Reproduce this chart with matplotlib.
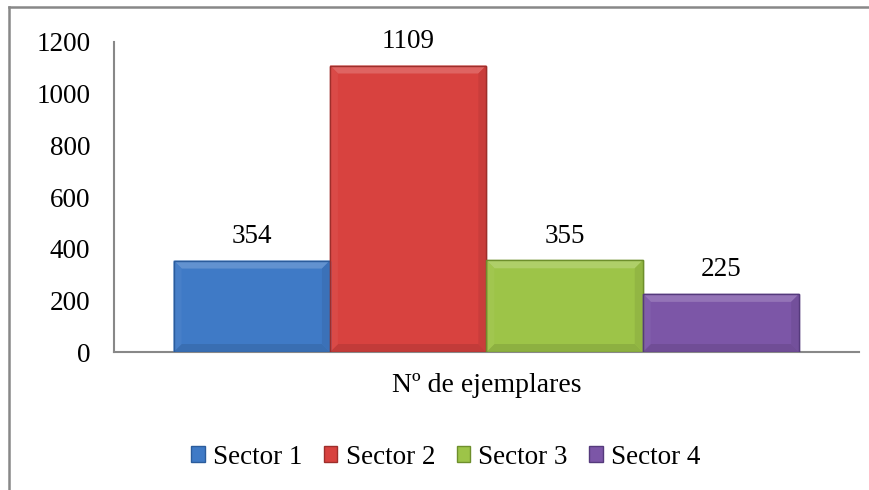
import matplotlib.pyplot as plt
from matplotlib.lines import Line2D
from matplotlib.patches import Polygon
from matplotlib.colors import to_rgb

categories = ["Nº de ejemplares"]
sectors = ["Sector 1", "Sector 2", "Sector 3", "Sector 4"]
values = [354, 1109, 355, 225]
colors = ["#3F7AC6", "#D8423F", "#9DC448", "#7C56A7"]
edges = ["#2B5C9C", "#9E2E2B", "#6E8F2C", "#553A7C"]
yticks = [0, 200, 400, 600, 800, 1000, 1200]

plt.rcParams['font.family'] = ['Liberation Serif', 'DejaVu Serif']

W, H = 8.69, 4.90
fig = plt.figure(figsize=(W, H), dpi=100)
pos = [0.1312, 0.2816, 0.857, 0.6327]
ax = fig.add_axes(pos)


def shade(c, f):
    # f > 0 lighter, f < 0 darker
    r = to_rgb(c)
    if f > 0:
        return tuple(v + (1 - v) * f for v in r)
    return tuple(v * (1 + f) for v in r)


width = 0.21
offsets = [-0.315, -0.105, 0.105, 0.315]
bev = 8  # bevel size in pixels
bx = bev / (pos[2] * W * 100)
by = bev * 1200 / (pos[3] * H * 100)

for name, v, off, c, ec in zip(sectors, values, offsets, colors, edges):
    ax.bar(off, v, width=width, color=c, edgecolor=ec, linewidth=1.0, label=name, zorder=3)
    x0, x1 = off - width / 2, off + width / 2
    faces = [
        ([(x0, v), (x1, v), (x1 - bx, v - by), (x0 + bx, v - by)], 0.18),
        ([(x0, 0), (x1, 0), (x1 - bx, by), (x0 + bx, by)], -0.10),
        ([(x0, 0), (x0, v), (x0 + bx, v - by), (x0 + bx, by)], 0.04),
        ([(x1, 0), (x1, v), (x1 - bx, v - by), (x1 - bx, by)], -0.07),
    ]
    for pts, f in faces:
        ax.add_patch(Polygon(pts, closed=True, facecolor=shade(c, f), edgecolor='none', zorder=3.5))
    ax.bar(off, v, width=width, color='none', edgecolor=ec, linewidth=1.0, zorder=4)
    ax.text(off, v + 45, str(v), ha='center', va='bottom', fontsize=19.5)

ax.set_xlim(-0.5, 0.5)
ax.set_ylim(0, 1200)
ax.set_yticks(yticks)
ax.set_yticklabels([str(t) for t in yticks], fontsize=19.5)
ax.set_xticks([0])
ax.set_xticklabels(categories, fontsize=20)
ax.tick_params(length=0, pad=15)
ax.tick_params(axis='y', pad=17)
for s in ['top', 'right']:
    ax.spines[s].set_visible(False)
for s in ['left', 'bottom']:
    ax.spines[s].set_color('#888888')
    ax.spines[s].set_linewidth(1.5)

handles = [plt.Rectangle((0, 0), 1, 1, facecolor=c, edgecolor=ec) for c, ec in zip(colors, edges)]
fig.legend(handles, sectors, loc='center', bbox_to_anchor=(0.513, 0.067), ncol=4,
           frameon=False, fontsize=19.5, handlelength=0.5, handleheight=0.5,
           handletextpad=0.3, columnspacing=0.8)

# outer chart border (left and top visible)
fig.add_artist(Line2D([0.0098, 0.0098], [0, 0.986], color='#888888', lw=1.8))
fig.add_artist(Line2D([0.0098, 1.0], [0.986, 0.986], color='#888888', lw=1.8))

fig.savefig('out.png', dpi=100)
